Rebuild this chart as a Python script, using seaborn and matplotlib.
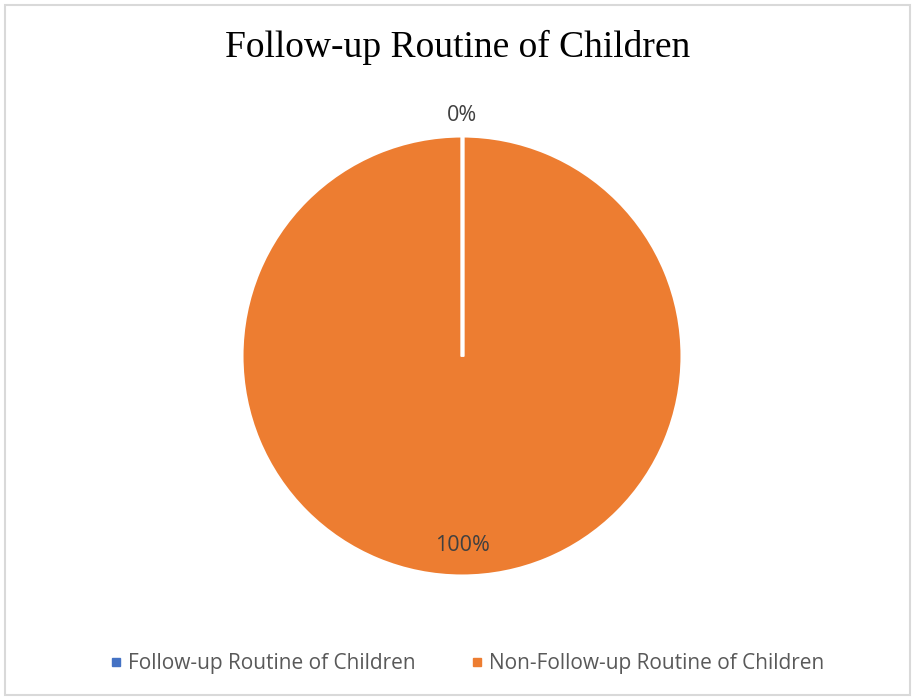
import numpy as np
import matplotlib
matplotlib.use("Agg")
import matplotlib.pyplot as plt
import seaborn as sns
from matplotlib.patches import Rectangle

categories = ["Follow-up Routine of Children", "Non-Follow-up Routine of Children"]
values = [0, 100]
colors = ["#4472C4", "#ED7D31"]
title = "Follow-up Routine of Children"

sns.set_theme(style="white")
plt.rcParams['font.family'] = ['Open Sans', 'DejaVu Sans']

fig = plt.figure(figsize=(9.15, 7.0), dpi=100)
W, H = 915, 700
cx, cy, r = 462, 356, 220
ax = fig.add_axes([(cx - r) / W, 1 - (cy + r) / H, 2 * r / W, 2 * r / H])

wedges, texts, autotexts = ax.pie(
    values, colors=colors, startangle=90, counterclock=False,
    autopct=lambda p: f"{p:.0f}%", pctdistance=0.86,
    wedgeprops=dict(edgecolor="white", linewidth=2.2),
    textprops=dict(color="#404040", fontsize=15.5),
)
ax.set_aspect("equal")
ax.set_xlim(-1, 1)
ax.set_ylim(-1, 1)

# white slice borders (radial edges) drawn from wedge angles
for w in wedges:
    for th in (w.theta1, w.theta2):
        a = np.deg2rad(th)
        ax.plot([0, np.cos(a)], [0, np.sin(a)], color="white", lw=2.5,
                solid_capstyle="butt", zorder=5)

# place percent labels: zero slice outside, others inside
for w, t, v in zip(wedges, autotexts, values):
    ang = np.deg2rad((w.theta1 + w.theta2) / 2)
    d = 1.095 if v == 0 else 0.86
    t.set_position((d * np.cos(ang), d * np.sin(ang)))
    t.set_ha("center"); t.set_va("center")
    t.set_zorder(6)

fig.text(0.5, 1 - 47 / H, title, ha="center", va="center",
         fontsize=27, family=["Liberation Serif", "DejaVu Serif"], color="#000000")

handles = [plt.Line2D([0], [0], marker="s", linestyle="", markersize=5.5,
                      markerfacecolor=c, markeredgecolor=c) for c in colors]
fig.legend(handles, categories, loc="center", bbox_to_anchor=(464 / W, 1 - 664 / H),
           ncol=2, frameon=False, fontsize=15, handletextpad=0.0,
           handlelength=1.15, columnspacing=2.4, labelcolor="#595959")

fig.patches.append(Rectangle((5 / W, 5 / H), 1 - 10 / W, 1 - 10 / H,
                             transform=fig.transFigure, fill=False,
                             edgecolor="#D9D9D9", linewidth=1.5))

fig.savefig("out.png", dpi=100, facecolor="white")
